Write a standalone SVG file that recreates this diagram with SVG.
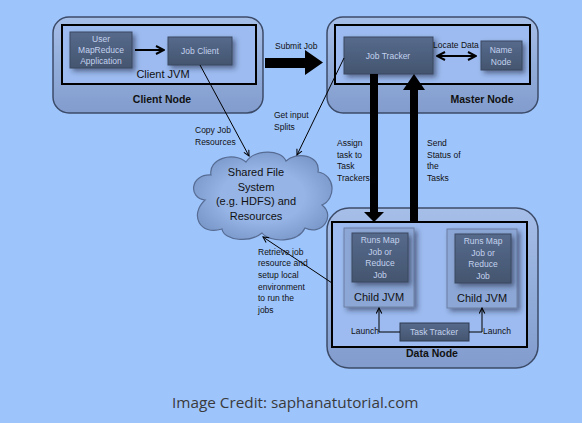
<svg xmlns="http://www.w3.org/2000/svg" width="582" height="423" viewBox="0 0 582 423">
<defs>
<linearGradient id="outerG" x1="0" y1="0" x2="0" y2="1">
<stop offset="0" stop-color="#a6bfe9"/>
<stop offset="1" stop-color="#819ccd"/>
</linearGradient>
<linearGradient id="darkG" x1="0" y1="0" x2="0" y2="1">
<stop offset="0" stop-color="#566a8c"/>
<stop offset="1" stop-color="#44556f"/>
</linearGradient>
<radialGradient id="cloudG" cx="0.5" cy="0.5" r="0.6">
<stop offset="0.5" stop-color="#96b4e6"/>
<stop offset="1" stop-color="#7592c4"/>
</radialGradient>
<filter id="sh" x="-20%" y="-20%" width="150%" height="160%">
<feDropShadow dx="3" dy="3" stdDeviation="2.5" flood-color="#1d2a44" flood-opacity="0.55"/>
</filter>
<marker id="ah" viewBox="0 0 10 10" refX="9" refY="5" markerWidth="7" markerHeight="7" orient="auto-start-reverse" markerUnits="userSpaceOnUse">
<path d="M1,1 L9,5 L1,9" fill="none" stroke="#000" stroke-width="1.5"/>
</marker>
<marker id="ah2" viewBox="0 0 10 10" refX="9" refY="5" markerWidth="10" markerHeight="10" orient="auto-start-reverse" markerUnits="userSpaceOnUse">
<path d="M1,1 L9,5 L1,9" fill="none" stroke="#000" stroke-width="2"/>
</marker>
</defs>
<style>
.outer{fill:url(#outerG);stroke:#3c4b68;stroke-width:1.5}
.inner{fill:#9dbbf0;stroke:#000;stroke-width:2}
.dark{fill:url(#darkG);stroke:#3a4860;stroke-width:1;filter:url(#sh)}
.dt{font-family:"Liberation Sans",Arial,sans-serif;font-size:8.5px;fill:#c3d2ee;text-anchor:middle}
.lbl{font-family:"Liberation Sans",Arial,sans-serif;font-size:8.5px;fill:#111}
.big{font-family:"Liberation Sans",Arial,sans-serif;font-size:11px;fill:#111;text-anchor:middle}
.bold{font-family:"Liberation Sans",Arial,sans-serif;font-size:10.5px;font-weight:bold;fill:#111;text-anchor:middle}
.thin{fill:none;stroke:#000;stroke-width:1}
.child{fill:#8ca7d6;stroke:#6a7fa3;stroke-width:1;filter:url(#sh)}
</style>
<rect x="0" y="0" width="582" height="423" fill="#9ec4fc"/>

<g id="client-node">
<rect class="outer" x="53" y="17" width="210" height="96" rx="16"/>
<rect class="inner" x="62" y="25" width="194" height="59"/>
<text class="bold" x="162" y="103">Client Node</text>
<text class="big" x="163" y="78">Client JVM</text>
</g>
<g id="user-app">
<rect class="dark" x="70" y="32" width="62" height="36"/>
<text class="dt" x="101" y="42">User</text>
<text class="dt" x="101" y="53">MapReduce</text>
<text class="dt" x="101" y="64">Application</text>
</g>
<g id="job-client">
<rect class="dark" x="168" y="37" width="64" height="28"/>
<text class="dt" x="200" y="54">Job Client</text>
</g>

<g id="master-node">
<rect class="outer" x="327" y="17" width="211" height="96" rx="16"/>
<rect class="inner" x="335" y="25" width="195" height="59"/>
<text class="bold" x="482" y="103">Master Node</text>
</g>
<g id="job-tracker">
<rect class="dark" x="344" y="37" width="89" height="37"/>
<text class="dt" x="388" y="59">Job Tracker</text>
</g>
<g id="name-node">
<rect class="dark" x="481" y="41" width="41" height="29"/>
<text class="dt" x="501" y="53">Name</text>
<text class="dt" x="501" y="65">Node</text>
</g>

<g id="shared-fs">
<path d="M205 200 C188 198,190 174,211 175 C208 159,233 151,246 162 C255 149,281 149,286 161 C296 151,321 155,318 172 C336 175,336 199,322 205 C336 216,322 236,305 228 C298 243,270 243,262 233 C250 243,224 241,222 229 C200 236,189 215,205 200 Z" fill="url(#cloudG)" stroke="#566c93" stroke-width="1.2"/>
<text class="big" x="256" y="176">Shared File</text>
<text class="big" x="256" y="191">System</text>
<text class="big" x="256" y="205">(e.g. HDFS) and</text>
<text class="big" x="256" y="220">Resources</text>
</g>

<g id="data-node">
<rect class="outer" x="327" y="208" width="211" height="160" rx="22"/>
<rect class="inner" x="332" y="222" width="195" height="125"/>
<text class="bold" x="432" y="357">Data Node</text>
</g>
<g id="child-jvm-1">
<rect class="child" x="344" y="228" width="70" height="79"/>
<rect class="dark" x="352" y="233" width="56" height="49"/>
<text class="dt" x="380" y="243">Runs Map</text>
<text class="dt" x="380" y="255">Job or</text>
<text class="dt" x="380" y="266">Reduce</text>
<text class="dt" x="380" y="278">Job</text>
<text class="big" x="379" y="301">Child JVM</text>
</g>
<g id="child-jvm-2">
<rect class="child" x="447" y="229" width="70" height="79"/>
<rect class="dark" x="455" y="234" width="56" height="49"/>
<text class="dt" x="483" y="244">Runs Map</text>
<text class="dt" x="483" y="256">Job or</text>
<text class="dt" x="483" y="267">Reduce</text>
<text class="dt" x="483" y="279">Job</text>
<text class="big" x="482" y="302">Child JVM</text>
</g>
<g id="task-tracker">
<rect class="dark" x="400" y="323" width="69" height="18" style="filter:none;stroke:#2f3b50"/>
<text class="dt" x="434" y="335">Task Tracker</text>
</g>

<g id="connectors">
<line x1="135" y1="50" x2="164" y2="50" stroke="#000" stroke-width="2" marker-end="url(#ah2)"/>
<polygon points="265,58 305,58 305,50 323,62.5 305,75 305,68 265,68" fill="#000"/>
<line x1="437" y1="56" x2="476" y2="56" stroke="#000" stroke-width="1.8" marker-start="url(#ah2)" marker-end="url(#ah2)"/>
<line class="thin" x1="200" y1="65" x2="249" y2="156" marker-end="url(#ah)"/>
<line class="thin" x1="344" y1="58" x2="297" y2="155" marker-end="url(#ah)"/>
<polygon points="370,74 378,74 378,212 384,212 374,222 364,212 370,212" fill="#000"/>
<polygon points="410,222 418,222 418,90 425,90 414,74 403,90 410,90" fill="#000"/>
<line class="thin" x1="332" y1="283" x2="263" y2="237" marker-end="url(#ah)"/>
<polyline class="thin" points="400,332 379,332 379,308" stroke-width="1.3" marker-end="url(#ah)"/>
<polyline class="thin" points="469,332 482,332 482,308" stroke-width="1.3" marker-end="url(#ah)"/>
</g>

<g id="labels">
<text class="lbl" x="275" y="49">Submit Job</text>
<text class="lbl" x="433" y="48">Locate Data</text>
<text class="lbl" x="195" y="133">Copy Job</text>
<text class="lbl" x="195" y="145">Resources</text>
<text class="lbl" x="274" y="118">Get input</text>
<text class="lbl" x="274" y="130">Splits</text>
<text class="lbl" x="337" y="146">Assign</text>
<text class="lbl" x="337" y="158">task to</text>
<text class="lbl" x="337" y="169">Task</text>
<text class="lbl" x="337" y="181">Trackers</text>
<text class="lbl" x="427" y="146">Send</text>
<text class="lbl" x="427" y="158">Status of</text>
<text class="lbl" x="427" y="169">the</text>
<text class="lbl" x="427" y="181">Tasks</text>
<text class="lbl" x="258" y="255">Retrieve job</text>
<text class="lbl" x="258" y="266">resource and</text>
<text class="lbl" x="258" y="278">setup local</text>
<text class="lbl" x="258" y="290">environment</text>
<text class="lbl" x="258" y="301">to run the</text>
<text class="lbl" x="258" y="313">jobs</text>
<text class="lbl" x="351" y="334">Launch</text>
<text class="lbl" x="483" y="334">Launch</text>
<text x="172" y="408" font-family="'Open Sans',sans-serif" font-size="15.3" fill="#3a3a3a">Image Credit: saphanatutorial.com</text>
</g>
</svg>
